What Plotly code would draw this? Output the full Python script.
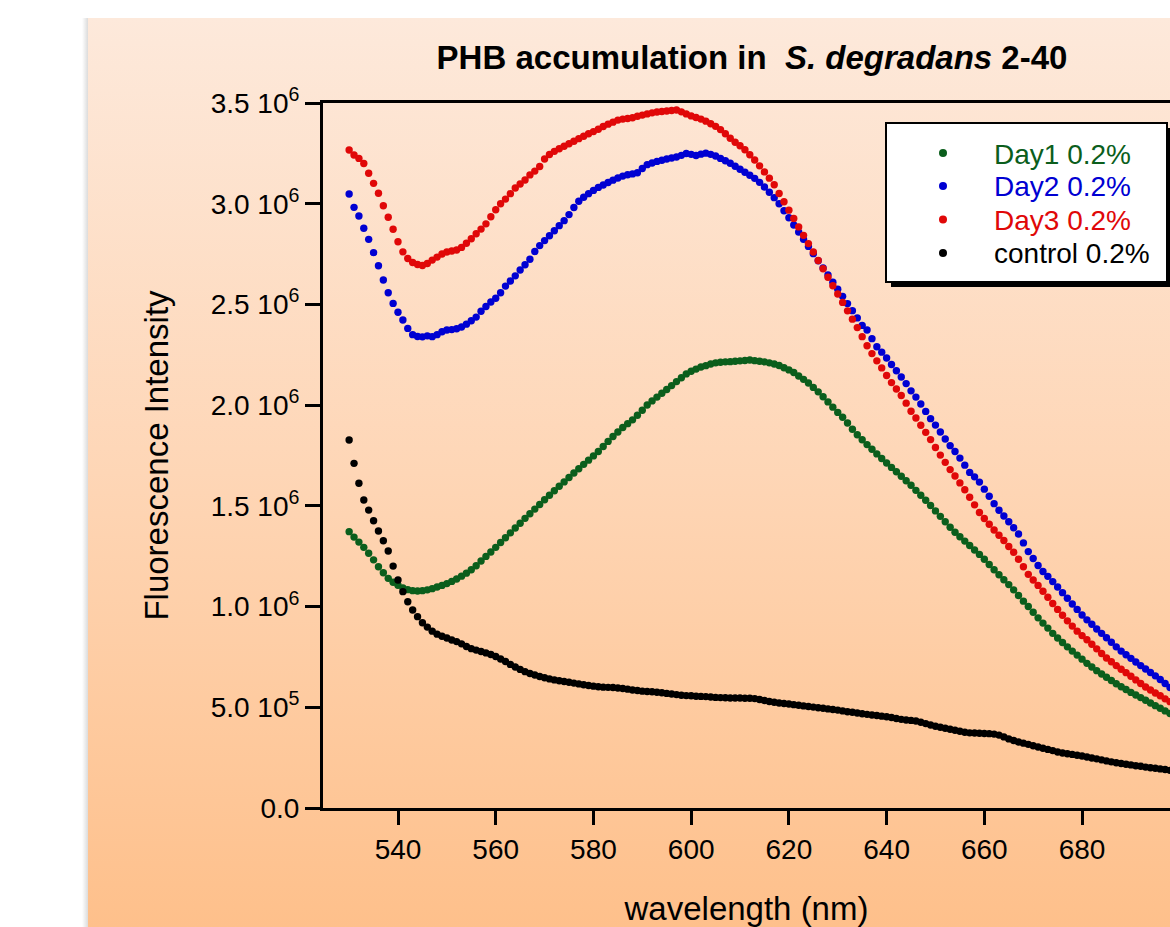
import base64
import plotly.graph_objects as go

# ---------------- data (fluorescence intensity in units of 10^6) ----------------
wavelength_nm = list(range(530, 701))

series_names = ["Day1 0.2%", "Day2 0.2%", "Day3 0.2%", "control 0.2%"]
series_colors = ["#0B5E1C", "#0000D2", "#E00808", "#000000"]

day1 = [
    1.372, 1.345, 1.320, 1.294, 1.265, 1.232, 1.198, 1.168, 1.140, 1.121,
    1.106, 1.092, 1.084, 1.079, 1.077, 1.079, 1.083, 1.089, 1.097, 1.105,
    1.114, 1.125, 1.137, 1.151, 1.166, 1.183, 1.203, 1.226, 1.249, 1.271,
    1.294, 1.318, 1.342, 1.366, 1.390, 1.414, 1.438, 1.461, 1.484, 1.507,
    1.530, 1.553, 1.575, 1.597, 1.619, 1.641, 1.663, 1.684, 1.706, 1.727,
    1.748, 1.770, 1.795, 1.820, 1.844, 1.867, 1.889, 1.908, 1.927, 1.950,
    1.975, 2.001, 2.021, 2.040, 2.059, 2.078, 2.097, 2.117, 2.136, 2.155,
    2.168, 2.179, 2.189, 2.196, 2.204, 2.210, 2.213, 2.215, 2.216, 2.218,
    2.220, 2.222, 2.224, 2.221, 2.218, 2.215, 2.210, 2.204, 2.197, 2.186,
    2.175, 2.162, 2.145, 2.128, 2.110, 2.088, 2.066, 2.042, 2.016, 1.990,
    1.964, 1.940, 1.911, 1.880, 1.853, 1.828, 1.804, 1.781, 1.758, 1.735,
    1.713, 1.691, 1.669, 1.647, 1.625, 1.602, 1.577, 1.553, 1.528, 1.502,
    1.475, 1.448, 1.421, 1.394, 1.369, 1.347, 1.325, 1.303, 1.281, 1.259,
    1.235, 1.209, 1.183, 1.158, 1.133, 1.109, 1.083, 1.055, 1.027, 1.000,
    0.972, 0.944, 0.918, 0.893, 0.867, 0.844, 0.822, 0.800, 0.779, 0.759,
    0.739, 0.718, 0.700, 0.682, 0.665, 0.649, 0.633, 0.617, 0.602, 0.588,
    0.574, 0.561, 0.548, 0.535, 0.521, 0.508, 0.495, 0.482, 0.469, 0.457,
    0.446,
]

day2 = [
    3.048, 2.982, 2.939, 2.878, 2.823, 2.757, 2.692, 2.621, 2.558, 2.505,
    2.461, 2.423, 2.381, 2.350, 2.341, 2.339, 2.344, 2.340, 2.350, 2.364,
    2.373, 2.375, 2.379, 2.388, 2.402, 2.419, 2.437, 2.466, 2.490, 2.512,
    2.531, 2.558, 2.591, 2.616, 2.642, 2.671, 2.697, 2.724, 2.763, 2.792,
    2.817, 2.841, 2.866, 2.891, 2.916, 2.946, 2.981, 3.012, 3.032, 3.050,
    3.066, 3.081, 3.093, 3.105, 3.117, 3.128, 3.137, 3.144, 3.148, 3.154,
    3.175, 3.194, 3.202, 3.210, 3.216, 3.222, 3.227, 3.232, 3.240, 3.249,
    3.245, 3.239, 3.246, 3.251, 3.245, 3.237, 3.225, 3.213, 3.201, 3.186,
    3.171, 3.156, 3.141, 3.126, 3.106, 3.083, 3.057, 3.030, 3.000, 2.965,
    2.930, 2.894, 2.859, 2.823, 2.788, 2.752, 2.717, 2.681, 2.646, 2.610,
    2.575, 2.540, 2.504, 2.469, 2.433, 2.396, 2.373, 2.330, 2.290, 2.263,
    2.234, 2.202, 2.171, 2.140, 2.107, 2.071, 2.040, 2.006, 1.969, 1.933,
    1.901, 1.867, 1.832, 1.799, 1.770, 1.737, 1.702, 1.666, 1.644, 1.618,
    1.583, 1.548, 1.511, 1.478, 1.450, 1.421, 1.391, 1.360, 1.316, 1.273,
    1.239, 1.204, 1.174, 1.150, 1.124, 1.097, 1.069, 1.041, 1.013, 0.986,
    0.958, 0.934, 0.912, 0.889, 0.867, 0.845, 0.823, 0.800, 0.779, 0.761,
    0.743, 0.725, 0.707, 0.690, 0.673, 0.656, 0.638, 0.618, 0.598, 0.583,
    0.568,
]

day3 = [
    3.267, 3.242, 3.225, 3.200, 3.151, 3.101, 3.052, 2.990, 2.933, 2.873,
    2.811, 2.761, 2.728, 2.708, 2.698, 2.693, 2.703, 2.720, 2.735, 2.750,
    2.760, 2.765, 2.770, 2.783, 2.804, 2.826, 2.851, 2.874, 2.900, 2.935,
    2.970, 3.000, 3.023, 3.050, 3.078, 3.098, 3.118, 3.143, 3.162, 3.185,
    3.222, 3.244, 3.260, 3.273, 3.285, 3.298, 3.310, 3.323, 3.335, 3.347,
    3.358, 3.370, 3.383, 3.395, 3.405, 3.415, 3.420, 3.423, 3.427, 3.434,
    3.440, 3.446, 3.451, 3.455, 3.458, 3.460, 3.463, 3.465, 3.456, 3.446,
    3.436, 3.428, 3.420, 3.410, 3.397, 3.384, 3.368, 3.347, 3.325, 3.305,
    3.288, 3.268, 3.243, 3.217, 3.188, 3.158, 3.127, 3.094, 3.051, 3.010,
    2.968, 2.927, 2.885, 2.843, 2.802, 2.760, 2.718, 2.677, 2.635, 2.593,
    2.552, 2.510, 2.468, 2.427, 2.385, 2.340, 2.295, 2.256, 2.220, 2.185,
    2.147, 2.112, 2.080, 2.048, 2.010, 1.970, 1.936, 1.900, 1.865, 1.829,
    1.790, 1.752, 1.716, 1.680, 1.648, 1.614, 1.580, 1.543, 1.505, 1.467,
    1.437, 1.409, 1.380, 1.354, 1.328, 1.298, 1.270, 1.235, 1.198, 1.160,
    1.132, 1.105, 1.076, 1.046, 1.015, 0.986, 0.957, 0.929, 0.903, 0.878,
    0.856, 0.835, 0.813, 0.790, 0.767, 0.745, 0.726, 0.707, 0.689, 0.672,
    0.654, 0.636, 0.618, 0.601, 0.586, 0.571, 0.557, 0.542, 0.528, 0.515,
    0.503,
]

control = [
    1.827, 1.711, 1.612, 1.529, 1.479, 1.426, 1.375, 1.327, 1.276, 1.201,
    1.132, 1.074, 1.024, 0.983, 0.950, 0.920, 0.898, 0.878, 0.863, 0.853,
    0.844, 0.834, 0.826, 0.815, 0.802, 0.791, 0.784, 0.777, 0.770, 0.762,
    0.752, 0.740, 0.727, 0.713, 0.700, 0.688, 0.677, 0.668, 0.660, 0.653,
    0.647, 0.641, 0.636, 0.632, 0.628, 0.624, 0.620, 0.616, 0.612, 0.608,
    0.605, 0.602, 0.600, 0.599, 0.598, 0.596, 0.593, 0.590, 0.586, 0.583,
    0.580, 0.578, 0.577, 0.575, 0.572, 0.569, 0.566, 0.563, 0.560, 0.558,
    0.557, 0.555, 0.554, 0.553, 0.551, 0.549, 0.548, 0.547, 0.546, 0.546,
    0.546, 0.545, 0.545, 0.543, 0.539, 0.534, 0.529, 0.525, 0.521, 0.519,
    0.516, 0.513, 0.510, 0.507, 0.504, 0.501, 0.498, 0.495, 0.492, 0.489,
    0.486, 0.482, 0.478, 0.475, 0.472, 0.468, 0.465, 0.462, 0.459, 0.456,
    0.453, 0.449, 0.444, 0.440, 0.437, 0.435, 0.432, 0.426, 0.419, 0.412,
    0.406, 0.401, 0.396, 0.391, 0.386, 0.381, 0.376, 0.373, 0.372, 0.371,
    0.370, 0.369, 0.367, 0.362, 0.353, 0.343, 0.335, 0.328, 0.322, 0.316,
    0.309, 0.303, 0.297, 0.291, 0.285, 0.278, 0.273, 0.269, 0.266, 0.262,
    0.258, 0.253, 0.248, 0.244, 0.239, 0.234, 0.229, 0.225, 0.221, 0.217,
    0.214, 0.210, 0.207, 0.203, 0.200, 0.197, 0.194, 0.191, 0.187, 0.184,
    0.181,
]

series_values = [day1, day2, day3, control]

x_tick_values = [540, 560, 580, 600, 620, 640, 660, 680, 700]
y_tick_values = [0.0, 0.5, 1.0, 1.5, 2.0, 2.5, 3.0, 3.5]
y_tick_labels = ["0.0", "5.0 10<sup>5</sup>", "1.0 10<sup>6</sup>", "1.5 10<sup>6</sup>",
                 "2.0 10<sup>6</sup>", "2.5 10<sup>6</sup>", "3.0 10<sup>6</sup>",
                 "3.5 10<sup>6</sup>"]

chart_title = "<b>PHB accumulation in  <i>S. degradans</i> 2-40</b>"
x_title = "wavelength (nm)"
y_title = "Fluorescence Intensity"

# ---------------- layout geometry (pixels) ----------------
W, H = 1170, 927
L, R, T, B = 323, 1170, 103, 808          # plot area edges
FONT = "Liberation Sans, Arial, Helvetica, sans-serif"


def px(xp):   # pixel x -> paper x
    return (xp - L) / (R - L)


def py(yp):   # pixel y -> paper y
    return (B - yp) / (B - T)


# background panel (peach gradient with soft left shadow) as an svg image
svg = (
    "<svg xmlns='http://www.w3.org/2000/svg' width='1090' height='913' "
    "viewBox='0 0 1090 913' preserveAspectRatio='none'>"
    "<defs><linearGradient id='g' x1='0' y1='0' x2='0' y2='1'>"
    "<stop offset='0' stop-color='#FDE9DB'/><stop offset='0.5' stop-color='#FED6B6'/>"
    "<stop offset='1' stop-color='#FEC08B'/></linearGradient>"
    "<linearGradient id='s' x1='0' y1='0' x2='1' y2='0'>"
    "<stop offset='0' stop-color='#000' stop-opacity='0'/>"
    "<stop offset='1' stop-color='#000' stop-opacity='0.14'/></linearGradient></defs>"
    "<rect x='2' y='4' width='6' height='909' fill='url(#s)'/>"
    "<rect x='8' y='4' width='1082' height='909' fill='url(#g)'/>"
    "</svg>"
)
svg_uri = "data:image/svg+xml;base64," + base64.b64encode(svg.encode()).decode()

fig = go.Figure()
for name, color, vals in zip(series_names, series_colors, series_values):
    fig.add_trace(go.Scatter(
        x=wavelength_nm, y=vals, mode="markers", name=name,
        marker=dict(size=7.4, color=color, line=dict(width=0)),
        showlegend=False,
    ))

shapes = []
annotations = []

# legend box: shadow, frame, entries
lx0, lx1, ly0, ly1 = 886, 1167, 123, 282
shapes.append(dict(type="rect", xref="paper", yref="paper",
                   x0=px(lx0 + 5), x1=px(lx1 + 5), y0=py(ly1 + 5), y1=py(ly0 + 5),
                   fillcolor="black", line=dict(width=0), layer="above"))
shapes.append(dict(type="rect", xref="paper", yref="paper",
                   x0=px(lx0), x1=px(lx1), y0=py(ly1), y1=py(ly0),
                   fillcolor="white", line=dict(color="black", width=2), layer="above"))
row_y = [153, 186, 219.5, 253]
for name, color, yy in zip(series_names, series_colors, row_y):
    shapes.append(dict(type="circle", xref="paper", yref="paper",
                       x0=px(943 - 4), x1=px(943 + 4), y0=py(yy + 4), y1=py(yy - 4),
                       fillcolor=color, line=dict(width=0), layer="above"))
    annotations.append(dict(xref="paper", yref="paper", x=px(992), y=py(yy + 1),
                            xanchor="left", yanchor="middle", showarrow=False,
                            text=name, font=dict(family=FONT, size=28, color=color)))

fig.update_layout(
    width=W, height=H,
    margin=dict(l=L, r=W - R, t=T, b=H - B, pad=0),
    paper_bgcolor="white",
    plot_bgcolor="rgba(0,0,0,0)",
    font=dict(family=FONT, color="black"),
    title=dict(text=chart_title, x=752 / W, xref="container", xanchor="center",
               y=1 - 57 / H, yref="container", yanchor="middle",
               font=dict(family=FONT, size=33, color="black")),
    xaxis=dict(range=[524.65, 698.0], tickvals=x_tick_values,
               ticks="outside", ticklen=14, tickwidth=3, tickcolor="black",
               showline=True, linewidth=3, linecolor="black", mirror=True,
               showgrid=False, zeroline=False,
               tickfont=dict(family=FONT, size=28, color="black"),
               title=dict(text=x_title, standoff=35,
                          font=dict(family=FONT, size=33, color="black"))),
    yaxis=dict(range=[0, 3.5], tickvals=y_tick_values, ticktext=y_tick_labels,
               ticks="outside", ticklen=15, tickwidth=3, tickcolor="black",
               showline=True, linewidth=3, linecolor="black", mirror=False,
               showgrid=False, zeroline=False,
               tickfont=dict(family=FONT, size=28, color="black"),
               title=dict(text=y_title, standoff=33,
                          font=dict(family=FONT, size=33, color="black"))),
    images=[dict(source=svg_uri, xref="paper", yref="paper",
                 x=px(80), y=py(14), sizex=(W - 80) / (R - L), sizey=(927 - 14) / (B - T),
                 xanchor="left", yanchor="top", sizing="stretch", layer="below")],
    shapes=shapes,
    annotations=annotations,
    showlegend=False,
)

fig.write_html(
    "out.html",
    config={"displayModeBar": False},
    post_script="document.body.style.margin='0';document.body.style.overflow='hidden';",
)
